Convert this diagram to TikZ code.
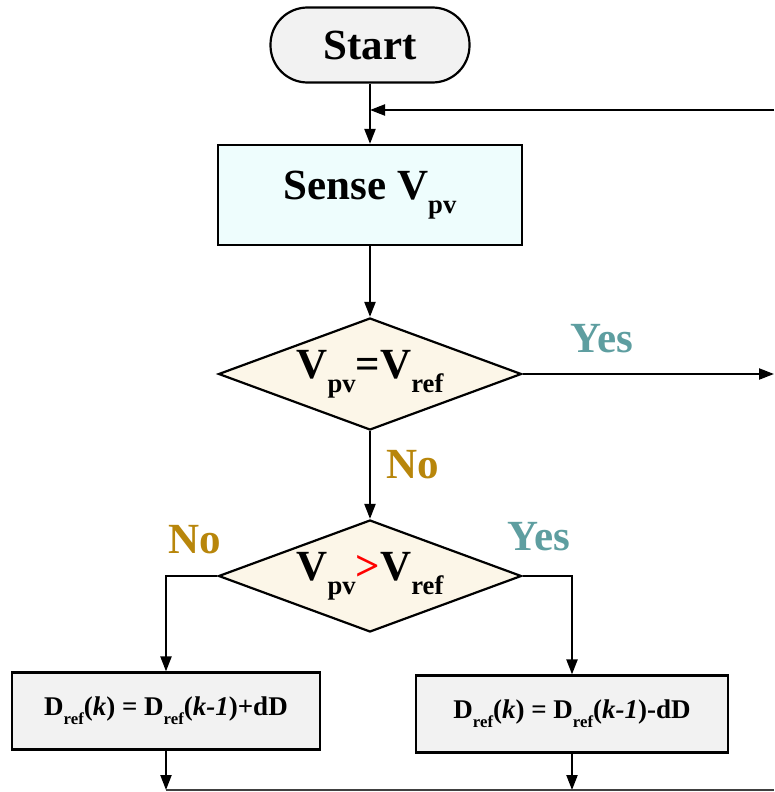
\documentclass[tikz,border=0pt]{standalone}
\usepackage{fontspec}
\setmainfont{Liberation Serif}
\usepackage{graphicx}
\usetikzlibrary{shapes.geometric,arrows.meta}
\definecolor{yescol}{HTML}{5E9EA0}
\definecolor{nocol}{HTML}{B8860B}
\definecolor{sensefill}{HTML}{EEFDFD}
\definecolor{decfill}{HTML}{FCF6E8}
\definecolor{boxfill}{HTML}{F2F2F2}
% lowered, reduced subscript in text font
\newcommand{\lsub}[1]{\raisebox{-0.32em}{\scalebox{0.62}{#1}}}

\begin{document}
\begin{tikzpicture}[x=1pt,y=-1pt,line width=2.2pt,
  >={Triangle[length=15pt,width=11pt]},
  bigtxt/.style={font=\bfseries\fontsize{43}{45}\selectfont},
  smalltxt/.style={font=\bfseries\fontsize{27}{30}\selectfont},
  terminal/.style={draw,fill=boxfill,rounded corners=37pt,minimum width=199pt,minimum height=75pt,bigtxt},
  process/.style={draw,fill=sensefill,minimum width=304pt,minimum height=100pt,bigtxt},
  decision/.style={draw,fill=decfill,diamond,minimum width=303pt,minimum height=112pt,inner sep=0pt},
  update/.style={draw,fill=boxfill,minimum height=77pt,smalltxt},
  yeslbl/.style={bigtxt,text=yescol},
  nolbl/.style={bigtxt,text=nocol}]
\useasboundingbox (0,0) rectangle (774,792);

% blocks
\node[terminal] (start) at (370,45) {Start};
\node[process] (sense) at (370,195) {Sense V\lsub{pv}};
\node[decision,label={[bigtxt]center:V\lsub{pv}=V\lsub{ref}}] (eq) at (370,374) {};
\node[decision,label={[bigtxt]center:V\lsub{pv}{\color{red}>}V\lsub{ref}}] (gt) at (370,576) {};
\node[update,minimum width=308pt] (inc) at (166,711)
  {D\lsub{ref}(\textit{k}) = D\lsub{ref}(\textit{k-1})+dD};
\node[update,minimum width=312pt] (dec) at (572,714)
  {D\lsub{ref}(\textit{k}) = D\lsub{ref}(\textit{k-1})-dD};

% branch labels
\node[yeslbl] (yes1) at (602,339) {Yes};
\node[nolbl] (no1) at (413,465) {No};
\node[nolbl] (no2) at (195,540) {No};
\node[yeslbl] (yes2) at (539,537) {Yes};

% loose ends at the picture edge
\coordinate (loopin) at (774,110);
\coordinate (exit) at (774,374);
\coordinate (incout) at (inc.south |- 0,790);
\coordinate (decout) at (dec.south |- 0,790);
\coordinate (busend) at (774,790);

% connectors
\draw[->] (start) -- (sense);
\draw[->] (loopin) -- (start.south |- loopin);
\draw[->] (sense) -- (eq);
\draw[->] (eq.east) -- (exit);
\draw[->] (eq) -- (gt);
\draw[->] (gt.west) -| (inc.north);
\draw[->] (gt.east) -| (dec.north);
\draw[->] (inc) -- (incout);
\draw[->] (dec) -- (decout);
\draw[line width=1.5pt,black!75] (incout) -- (busend);
\end{tikzpicture}
\end{document}
